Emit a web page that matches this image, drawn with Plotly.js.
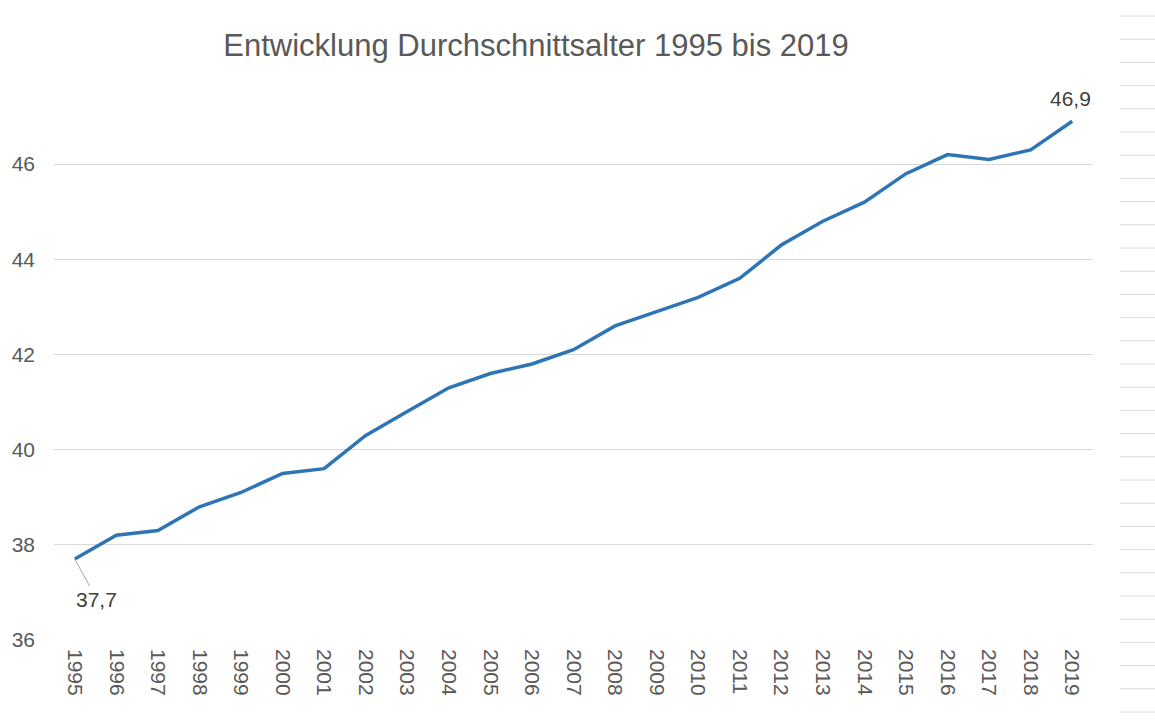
<!DOCTYPE html>
<html>
<head>
<meta charset="utf-8">
<script src="https://cdn.plot.ly/plotly-3.0.1.min.js"></script>
<style>html,body{margin:0;padding:0;background:#fff;}#chart{width:1155px;height:720px;}</style>
</head>
<body>
<div id="chart"></div>
<script>
const years = ["1995","1996","1997","1998","1999","2000","2001","2002","2003","2004","2005","2006","2007","2008","2009","2010","2011","2012","2013","2014","2015","2016","2017","2018","2019"];
const avgAge = [37.7,38.2,38.3,38.8,39.1,39.5,39.6,40.3,40.8,41.3,41.6,41.8,42.1,42.6,42.9,43.2,43.6,44.3,44.8,45.2,45.8,46.2,46.1,46.3,46.9];
const yTicks = [36,38,40,42,44,46];
const titleText = "Entwicklung Durchschnittsalter 1995 bis 2019";

const W = 1155, H = 720;
const mL = 54, mR = 62, mT = 88, mB = 80;
const pw = W - mL - mR, ph = H - mT - mB;

// decorative spreadsheet row lines at the right edge
const shapes = [];
for (let py = 16; py < H; py += 23.2) {
  shapes.push({
    type: 'line', xref: 'paper', yref: 'paper',
    x0: (1120 - mL) / pw, x1: (1160 - mL) / pw,
    y0: (H - mB - py) / ph, y1: (H - mB - py) / ph,
    line: {color: '#dadada', width: 1}
  });
}

const fmt = v => v.toFixed(1).replace('.', ',');
const n = years.length;

const trace = {
  x: years, y: avgAge, type: 'scatter', mode: 'lines',
  line: {color: '#2e75b6', width: 3.5},
  hoverinfo: 'skip'
};

const layout = {
  width: W, height: H,
  margin: {l: mL, r: mR, t: mT, b: mB, pad: 0},
  paper_bgcolor: '#ffffff', plot_bgcolor: '#ffffff',
  font: {family: 'Liberation Sans, Arial, sans-serif', color: '#595959', size: 21},
  title: {
    text: titleText, xref: 'container', yref: 'container',
    x: 536 / W, xanchor: 'center', y: 1 - 45 / H, yanchor: 'middle',
    font: {size: 31, color: '#595959', family: 'Liberation Sans, Arial, sans-serif'}
  },
  showlegend: false,
  xaxis: {
    type: 'category', range: [-0.5, n - 0.5],
    tickangle: 90, showgrid: false, zeroline: false,
    showline: false, ticks: '', ticklabelstandoff: 8,
    tickfont: {size: 21, color: '#595959'},
    fixedrange: true
  },
  yaxis: {
    range: [36, 47.6], tickvals: yTicks, ticktext: yTicks.map(String),
    showgrid: true, gridcolor: '#d9d9d9', gridwidth: 1,
    zeroline: false, showline: false, ticks: '', ticklabelstandoff: 18,
    tickfont: {size: 21, color: '#595959'}, fixedrange: true
  },
  shapes: shapes,
  annotations: [
    {
      x: 0, y: avgAge[0], xref: 'x', yref: 'y',
      text: fmt(avgAge[0]), showarrow: true, arrowhead: 0, arrowwidth: 1,
      arrowcolor: '#a6a6a6', ax: 22, ay: 40, standoff: 0,
      font: {size: 21, color: '#404040'}
    },
    {
      x: n - 1, y: avgAge[n - 1], xref: 'x', yref: 'y',
      text: fmt(avgAge[n - 1]), showarrow: false, yshift: 23, xshift: -2,
      font: {size: 21, color: '#404040'}
    }
  ]
};

Plotly.newPlot('chart', [trace], layout, {displayModeBar: false, staticPlot: true});
</script>
</body>
</html>
